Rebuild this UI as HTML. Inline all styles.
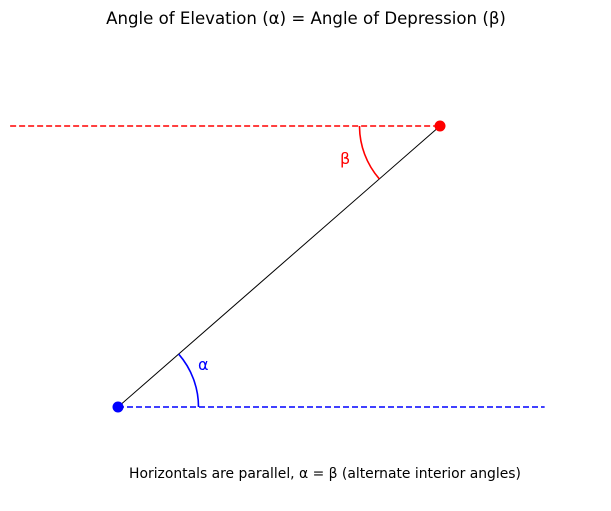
<!DOCTYPE html>
<html><head><meta charset="utf-8"><style>
html,body{margin:0;padding:0;background:#fff;}
svg{display:block;font-family:"DejaVu Sans","Liberation Sans",sans-serif;}
</style></head><body>
<svg id="chart" width="611" height="511" viewBox="0 0 611 511">
<text x="306" y="24" text-anchor="middle" font-size="16.6" fill="#000">Angle of Elevation (α) = Angle of Depression (β)</text>
<g id="marks"></g>
<text x="325" y="478" text-anchor="middle" font-size="13.9" fill="#000">Horizontals are parallel, α = β (alternate interior angles)</text>
</svg>
<script>
// data coordinates
const observer = [0, 0];
const target = [4, 3.5];
const blueLineX = [0, 5.3];
const redLineX = [-1.34, 4];
const arcRadius = 1.0;
const xDomain = [0, 4];
const yDomain = [0, 3.5];

const px0 = 118, px1 = 440, py0 = 407, py1 = 126;
const sx = v => px0 + (v - xDomain[0]) / (xDomain[1] - xDomain[0]) * (px1 - px0);
const sy = v => py0 - (v - yDomain[0]) / (yDomain[1] - yDomain[0]) * (py0 - py1);
const g = document.getElementById('marks');
const NS = 'http://www.w3.org/2000/svg';
function mk(tag, attrs) { const e = document.createElementNS(NS, tag); for (const k in attrs) e.setAttribute(k, attrs[k]); g.appendChild(e); return e; }

let e;
e = mk('line', {x1: sx(blueLineX[0]), y1: sy(observer[1]), x2: sx(blueLineX[1]), y2: sy(observer[1]), stroke: '#0000ff', 'stroke-width': 1.6, 'stroke-dasharray': '6,3'});


e = mk('line', {x1: sx(redLineX[0]), y1: sy(target[1]), x2: sx(redLineX[1]), y2: sy(target[1]), stroke: '#ff0000', 'stroke-width': 1.6, 'stroke-dasharray': '6,3'});


e = mk('line', {x1: sx(observer[0]), y1: sy(observer[1]), x2: sx(target[0]), y2: sy(target[1]), stroke: '#000', 'stroke-width': 1});



const ox = sx(observer[0]), oy = sy(observer[1]), tx = sx(target[0]), ty = sy(target[1]);
const ang = Math.atan2(oy - ty, tx - ox);
const r = sx(arcRadius) - sx(0);
e = mk('path', {d: `M${ox + r},${oy} A${r},${r} 0 0 0 ${ox + r * Math.cos(ang)},${oy - r * Math.sin(ang)}`, fill: 'none', stroke: '#0000ff', 'stroke-width': 1.6});


e = mk('path', {d: `M${tx - r},${ty} A${r},${r} 0 0 0 ${tx - r * Math.cos(ang)},${ty + r * Math.sin(ang)}`, fill: 'none', stroke: '#ff0000', 'stroke-width': 1.6});



e = mk('text', {x: ox + 80, y: oy - 37, 'font-size': 16, fill: '#0000ff'}); e.textContent = 'α';


e = mk('text', {x: tx - 100, y: ty + 38, 'font-size': 16, fill: '#ff0000'}); e.textContent = 'β';



e = mk('circle', {cx: ox, cy: oy, r: 5.5, fill: '#0000ff'});


e = mk('circle', {cx: tx, cy: ty, r: 5.5, fill: '#ff0000'});


</script>
</body></html>
